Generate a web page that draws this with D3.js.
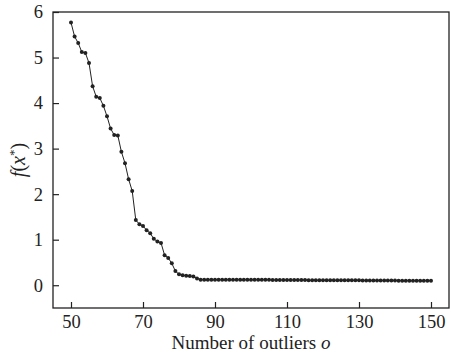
<!DOCTYPE html>
<html>
<head>
<meta charset="utf-8">
<script src="https://cdn.jsdelivr.net/npm/d3@7"></script>
<style>
  body { margin: 0; background: #fff; }
  svg { display: block; }
  .tick text { font-family: "Liberation Serif", "DejaVu Serif", serif; }
</style>
</head>
<body>
<svg id="chart"></svg>
<script>
// outlier counts 50..150
const outliers = d3.range(50, 151);

// f(x*), one per outlier count
const headValues = [
    5.77, 5.46, 5.32, 5.12, 5.10, 4.88, 4.37, 4.14, 4.11, 3.94,   // 50-59
    3.71, 3.44, 3.30, 3.29, 2.93, 2.68, 2.33, 2.07, 1.43, 1.34,   // 60-69
    1.30, 1.21, 1.14, 1.02, 0.96, 0.93, 0.66, 0.60, 0.48, 0.31,   // 70-79
    0.24, 0.22, 0.21, 0.20, 0.19, 0.15                            // 80-85
];
const tailValues = [
    0.12, 0.12, 0.12, 0.12, 0.12, 0.12, 0.12, 0.12, 0.12, 0.12,   // 86-95
    0.12, 0.12, 0.12, 0.12, 0.12, 0.12, 0.12, 0.12, 0.12, 0.12,   // 96-105
    0.115, 0.115, 0.115, 0.115, 0.115, 0.115, 0.115, 0.115, 0.115, 0.115, // 106-115
    0.11, 0.11, 0.11, 0.11, 0.11, 0.11, 0.11, 0.11, 0.11, 0.11,   // 116-125
    0.11, 0.11, 0.11, 0.11, 0.11, 0.105, 0.105, 0.105, 0.105, 0.105, // 126-135
    0.105, 0.105, 0.105, 0.105, 0.105, 0.10, 0.10, 0.10, 0.10, 0.10, // 136-145
    0.10, 0.10, 0.10, 0.10, 0.10                                  // 146-150
];
const fvalues = headValues.concat(tailValues);

const xTicks = [50, 70, 90, 110, 130, 150];
const yTicks = [0, 1, 2, 3, 4, 5, 6];

const data = outliers.map((o, i) => ({ o: o, f: fvalues[i] }));

const width = 451, height = 359;
const margin = { top: 12, right: 2, bottom: 51, left: 53 };
const innerWidth = width - margin.left - margin.right;
const innerHeight = height - margin.top - margin.bottom;
const serif = '"Liberation Serif", "DejaVu Serif", serif';

const svg = d3.select('#chart')
    .attr('width', width)
    .attr('height', height);

const chart = svg.append('g')
    .attr('transform', `translate(${margin.left}, ${margin.top})`);

const xscale = d3.scaleLinear()
    .domain([45, 155])
    .range([0, innerWidth]);

const yscale = d3.scaleLinear()
    .domain([-0.5, 6])
    .range([innerHeight, 0]);

const xaxis = d3.axisBottom(xscale)
    .tickValues(xTicks)
    .tickFormat(d3.format('d'))
    .tickSizeInner(-6)
    .tickSizeOuter(0)
    .tickPadding(7);

const yaxis = d3.axisLeft(yscale)
    .tickValues(yTicks)
    .tickFormat(d3.format('d'))
    .tickSizeInner(-6)
    .tickSizeOuter(0)
    .tickPadding(10);

const xg = chart.append('g')
    .attr('transform', `translate(0, ${innerHeight})`)
    .call(xaxis);

const yg = chart.append('g')
    .call(yaxis);

[xg, yg].forEach(g => {
    g.select('.domain').remove();
    g.selectAll('.tick line').attr('stroke', '#222').attr('stroke-width', 1.2);
    g.selectAll('.tick text').style('font-size', '18.5px').attr('fill', '#222');
});

// frame
chart.append('rect')
    .attr('x', 0)
    .attr('y', 0)
    .attr('width', innerWidth)
    .attr('height', innerHeight)
    .attr('fill', 'none')
    .attr('stroke', '#222')
    .attr('stroke-width', 1.3);

const line = d3.line()
    .x(d => xscale(d.o))
    .y(d => yscale(d.f));

chart.append('path')
    .datum(data)
    .attr('d', line)
    .attr('fill', 'none')
    .attr('stroke', '#222')
    .attr('stroke-width', 1);

chart.selectAll('.dot')
    .data(data)
    .join('circle')
    .attr('class', 'dot')
    .attr('cx', d => xscale(d.o))
    .attr('cy', d => yscale(d.f))
    .attr('r', 2)
    .attr('fill', '#222');

// axis labels
svg.append('text')
    .attr('x', margin.left + innerWidth / 2)
    .attr('y', 349)
    .attr('text-anchor', 'middle')
    .style('font-family', serif)
    .style('font-size', '19px')
    .attr('fill', '#222')
    .html('Number of outliers <tspan font-style="italic">o</tspan>');

svg.append('text')
    .attr('transform', `translate(25, ${margin.top + innerHeight / 2}) rotate(-90)`)
    .attr('text-anchor', 'middle')
    .style('font-family', serif)
    .style('font-size', '20px')
    .attr('fill', '#222')
    .html('<tspan font-style="italic">f</tspan>(<tspan font-style="italic">x</tspan><tspan dy="-7" font-size="13px">*</tspan><tspan dy="7">)</tspan>');
</script>
</body>
</html>
